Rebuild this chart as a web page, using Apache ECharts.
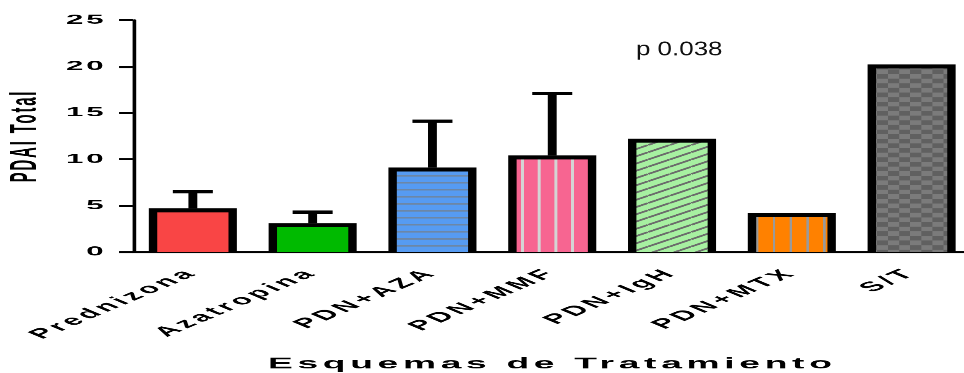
<!DOCTYPE html>
<html>
<head>
<meta charset="utf-8">
<script src="https://cdn.jsdelivr.net/npm/echarts@6/dist/echarts.min.js"></script>
<style>
  html, body { margin: 0; padding: 0; width: 964px; height: 373px; overflow: hidden; background: #fff; }
  /* the plot is laid out narrow and widened horizontally, like the exported figure */
  #chart { width: 420px; height: 373px; transform: scaleX(2.4); transform-origin: 0 0; }
</style>
</head>
<body>
<div id="chart"></div>
<script>
// ---- data ----
const categories = ['Prednizona', 'Azatropina', 'PDN+AZA', 'PDN+MMF', 'PDN+IgH', 'PDN+MTX', 'S/T'];
const means = [4.5, 2.9, 8.9, 10.2, 12.0, 4.0, 20.0];
const sds = [2.0, 1.4, 5.2, 6.9, null, null, null];
const yMin = 0, yMax = 25, yStep = 5;
const xTitle = 'Esquemas de Tratamiento';
const yTitle = 'PDAI Total';
const pText = 'p 0.038';

// ---- layout constants (unstretched px) ----
const BAR_RATIO = 0.735;   // bar width / category band
const SIDE = 3.5;          // black side border
const TOP = 2;             // half of the top border (centred on the value)

// letter spacing per font size, applied when canvas text is drawn
const LETTER_SPACING = { 13: 1.2, 13.5: 2.0, 15: 1.8, 15.5: 1.95 };
(function () {
  const proto = CanvasRenderingContext2D.prototype;
  const orig = proto.fillText;
  proto.fillText = function (text, x, y, maxWidth) {
    const m = /([\d.]+)px/.exec(this.font || '');
    const sp = m ? (LETTER_SPACING[parseFloat(m[1])] || 0) : 0;
    const prev = this.letterSpacing;
    if ('letterSpacing' in this) this.letterSpacing = sp + 'px';
    if (maxWidth === undefined) orig.call(this, text, x, y);
    else orig.call(this, text, x, y, maxWidth);
    if ('letterSpacing' in this) this.letterSpacing = prev || '0px';
  };
})();

// ---- fill patterns ----
function tile(w, h, draw) {
  const k = 4;
  const c = document.createElement('canvas');
  c.width = Math.round(w * k);
  c.height = Math.round(h * k);
  const g = c.getContext('2d');
  g.scale(k, k);
  draw(g, w, h);
  return { image: c, repeat: 'repeat', scaleX: 1 / k, scaleY: 1 / k };
}
const fills = [
  '#F94545',
  '#00BA00',
  tile(4, 7, (g, w, h) => { g.fillStyle = '#569BF2'; g.fillRect(0, 0, w, h); g.fillStyle = '#6D87A6'; g.fillRect(0, 0, w, 1.5); }),
  tile(7, 4, (g, w, h) => { g.fillStyle = '#F76591'; g.fillRect(0, 0, w, h); g.fillStyle = '#D4D4D4'; g.fillRect(0, 0, 1.25, h); }),
  tile(9, 7.25, (g, w, h) => {
    g.fillStyle = '#A7F0A1'; g.fillRect(0, 0, w, h);
    g.strokeStyle = '#6B6B6B'; g.lineWidth = 1.5;
    for (let k = -1; k <= 1; k++) {
      g.beginPath(); g.moveTo(0, h + k * h); g.lineTo(w, k * h); g.stroke();
    }
  }),
  tile(7, 4, (g, w, h) => { g.fillStyle = '#FF8100'; g.fillRect(0, 0, w, h); g.fillStyle = '#9A9A9A'; g.fillRect(0, 0, 1, h); }),
  tile(9.25, 9.25, (g, w, h) => {
    const cw = w / 2, ch = h / 2;
    g.fillStyle = '#7B7B7B'; g.fillRect(0, 0, w, h);
    g.fillStyle = '#606060'; g.fillRect(cw, 0, cw, ch); g.fillRect(0, ch, cw, ch);
  })
];

const barData = categories.map((c, i) => [i, means[i]]);
const errData = [];
sds.forEach((sd, i) => { if (sd != null) errData.push([i, means[i], means[i] + sd]); });

const chart = echarts.init(document.getElementById('chart'), null, { renderer: 'canvas', devicePixelRatio: 2.4 });

chart.setOption({
  animation: false,
  backgroundColor: '#fff',
  grid: { left: 55.4, right: 15.2, top: 20, bottom: 121, outerBoundsMode: 'none', containLabel: false },
  xAxis: {
    type: 'category',
    data: categories,
    name: xTitle,
    nameLocation: 'middle',
    nameGap: 104,
    nameTextStyle: { color: '#000', fontFamily: 'Liberation Sans', fontWeight: 'bold', fontSize: 15.5 },
    axisLine: { lineStyle: { color: '#000', width: 2 } },
    axisTick: { alignWithLabel: true, length: 6, lineStyle: { color: '#000', width: 2.5 } },
    axisLabel: { interval: 0, rotate: 45, margin: 19, color: '#000', fontFamily: 'Liberation Sans', fontWeight: 'bold', fontSize: 13.5 }
  },
  yAxis: {
    type: 'value',
    min: yMin, max: yMax, interval: yStep,
    name: yTitle,
    nameLocation: 'middle',
    nameRotate: 90,
    nameGap: 37,
    nameTextStyle: { color: '#000', fontFamily: 'Liberation Sans', fontWeight: 'bold', fontSize: 15 },
    axisLine: { show: true, lineStyle: { color: '#000', width: 1.5 } },
    axisTick: { show: true, length: 5.8, lineStyle: { color: '#000', width: 2 } },
    axisLabel: { margin: 11, color: '#000', fontFamily: 'Liberation Sans', fontWeight: 'bold', fontSize: 13 },
    splitLine: { show: false }
  },
  graphic: [{
    type: 'text',
    x: 265, y: 40,
    scaleX: 0.54,
    style: { text: pText, font: '20px "Liberation Sans"', fill: '#111' }
  }],
  series: [
    {
      type: 'custom',
      name: 'bars',
      data: barData,
      encode: { x: 0, y: 1 },
      renderItem: function (params, api) {
        const i = api.value(0), v = api.value(1);
        const top = api.coord([i, v]);
        const base = api.coord([i, 0]);
        const w = api.size([1, 0])[0] * BAR_RATIO;
        const x0 = top[0] - w / 2;
        return {
          type: 'group',
          children: [
            { type: 'rect', shape: { x: x0, y: top[1] - TOP, width: w, height: base[1] - top[1] + TOP }, style: { fill: '#000' } },
            { type: 'rect', shape: { x: x0 + SIDE, y: top[1] + TOP, width: w - 2 * SIDE, height: base[1] - top[1] - TOP }, style: { fill: fills[i] } }
          ]
        };
      }
    },
    {
      type: 'custom',
      name: 'sd',
      data: errData,
      encode: { x: 0, y: [1, 2] },
      renderItem: function (params, api) {
        const i = api.value(0);
        const p0 = api.coord([i, api.value(1)]);
        const p1 = api.coord([i, api.value(2)]);
        const half = api.size([1, 0])[0] * 0.167;
        return {
          type: 'group',
          children: [
            { type: 'line', shape: { x1: p0[0], y1: p0[1] - TOP, x2: p1[0], y2: p1[1] }, style: { stroke: '#000', lineWidth: 3.7 } },
            { type: 'line', shape: { x1: p1[0] - half, y1: p1[1], x2: p1[0] + half, y2: p1[1] }, style: { stroke: '#000', lineWidth: 3.3 } }
          ]
        };
      }
    }
  ]
});
</script>
</body>
</html>
